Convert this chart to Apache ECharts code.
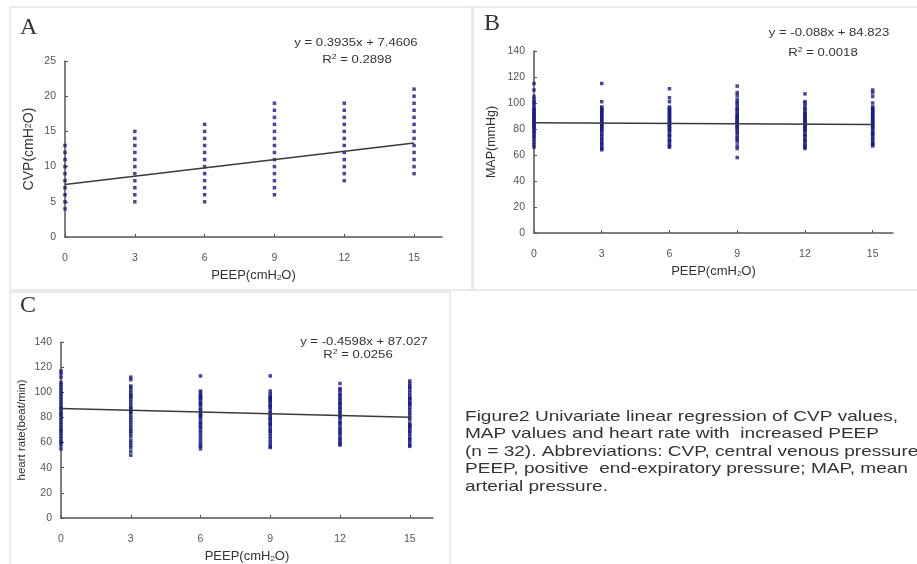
<!DOCTYPE html>
<html>
<head>
<meta charset="utf-8">
<script src="https://cdn.jsdelivr.net/npm/echarts@6/dist/echarts.min.js"></script>
<style>
  html, body { margin: 0; padding: 0; background: #fff; }
  #main { width: 917px; height: 564px; }
</style>
</head>
<body>
<div id="main"></div>
<script>
// PEEP levels (x)
const peep = [0, 3, 6, 9, 12, 15]
const xTicks = ['0', '3', '6', '9', '12', '15']

// A: CVP values at each PEEP level (many overlap)
const cvp0 = [4, 5, 6, 7, 8, 9, 10, 11, 12, 13]
const cvp3 = [5, 6, 7, 8, 9, 10, 11, 12, 13, 14, 15]
const cvp6 = [5, 6, 7, 8, 9, 10, 11, 12, 13, 14, 15, 16]
const cvp9 = [6, 7, 8, 9, 10, 11, 12, 13, 14, 15, 16, 17, 18, 19]
const cvp12 = [8, 9, 10, 11, 12, 13, 14, 15, 16, 17, 18, 19]
const cvp15 = [9, 10, 11, 12, 13, 14, 15, 16, 17, 18, 19, 20, 21]

// B: MAP values
const map0 = [66, 68, 70, 72, 74, 75, 77, 78, 80, 81, 82, 83, 84, 85, 86, 87, 88, 89, 90, 91, 92, 93, 94, 95, 96, 98, 100, 101, 103, 105, 110, 115]
const map3 = [64, 65, 66, 68, 69, 70, 72, 73, 75, 76, 78, 79, 80, 81, 82, 83, 84, 85, 86, 87, 88, 89, 90, 91, 92, 93, 94, 95, 96, 97, 101, 115]
const map6 = [66, 67, 68, 70, 71, 72, 74, 75, 76, 78, 79, 80, 81, 82, 83, 84, 85, 86, 87, 88, 89, 90, 91, 92, 93, 94, 95, 96, 97, 101, 104, 111]
const map9 = [58, 65, 67, 70, 72, 73, 75, 77, 78, 80, 81, 82, 83, 84, 85, 86, 87, 88, 89, 90, 91, 92, 94, 95, 96, 98, 100, 101, 103, 106, 108, 113]
const map12 = [65, 66, 67, 68, 70, 71, 72, 74, 75, 76, 78, 79, 80, 81, 82, 83, 84, 85, 86, 87, 88, 89, 90, 91, 92, 93, 95, 96, 98, 100, 101, 107]
const map15 = [67, 68, 69, 70, 72, 73, 75, 76, 77, 78, 80, 81, 82, 83, 84, 85, 86, 87, 88, 89, 90, 91, 92, 93, 94, 95, 96, 97, 100, 105, 108, 110]

// C: heart rate values
const hr0 = [55, 58, 60, 61, 63, 65, 67, 69, 70, 72, 74, 76, 78, 80, 82, 83, 85, 87, 88, 90, 92, 94, 96, 98, 100, 102, 104, 106, 108, 112, 115, 117]
const hr3 = [50, 53, 56, 58, 60, 62, 65, 67, 69, 70, 72, 74, 76, 78, 80, 82, 84, 85, 87, 88, 90, 92, 94, 96, 97, 98, 100, 102, 104, 105, 110, 112]
const hr6 = [55, 57, 58, 60, 62, 64, 66, 68, 70, 72, 73, 75, 76, 78, 80, 81, 82, 83, 85, 86, 88, 90, 91, 92, 94, 95, 96, 97, 98, 100, 101, 113]
const hr9 = [56, 57, 59, 61, 63, 65, 67, 69, 70, 72, 74, 75, 76, 78, 79, 80, 82, 83, 84, 86, 88, 89, 90, 92, 93, 94, 95, 96, 97, 99, 101, 113]
const hr12 = [58, 59, 60, 62, 63, 65, 67, 68, 70, 71, 73, 75, 76, 78, 80, 81, 82, 84, 85, 87, 88, 90, 91, 92, 94, 95, 97, 98, 100, 102, 103, 107]
const hr15 = [57, 58, 60, 62, 63, 65, 67, 69, 70, 72, 73, 74, 75, 78, 80, 82, 84, 86, 88, 90, 91, 92, 94, 95, 96, 98, 100, 102, 104, 105, 107, 109]

// fitted lines [slope, intercept]
const fitA = [0.3935, 7.4606]
const fitB = [-0.088, 84.823]
const fitC = [-0.4598, 87.027]

const yTicksA = ['0', '5', '10', '15', '20', '25']
const yTicksBC = ['0', '20', '40', '60', '80', '100', '120', '140']

function pts (groups) {
  let out = []
  groups.forEach((g, i) => g.forEach(v => out.push([peep[i], v])))
  return out
}
function fitLine (f) {
  return [[0, f[1]], [15, f[0] * 15 + f[1]]]
}

const font = 'Liberation Sans, Arial, sans-serif'
const axisCol = '#555'
const dotCol = '#1a1a80'

function xAxis (idx, max) {
  return {
    type: 'value', gridIndex: idx, min: 0, max: max, interval: 3,
    name: 'PEEP(cmH{s|2}O)', nameLocation: 'middle', nameGap: 31,
    nameTextStyle: {
      fontFamily: font, fontSize: 13, color: '#333',
      rich: { s: { fontSize: 8, fontFamily: font, color: '#333', padding: [6, 0, 0, 0] } }
    },
    axisLine: { lineStyle: { color: axisCol, width: 1.5 } },
    axisTick: { inside: true, length: 3, lineStyle: { color: axisCol } },
    splitLine: { show: false },
    axisLabel: {
      margin: 16, fontFamily: font, fontSize: 10.5, color: '#555', showMaxLabel: false,
      formatter: v => xTicks.indexOf(String(v)) >= 0 ? String(v) : ''
    }
  }
}
function yAxis (idx, max, interval, name, gap, size) {
  const ticks = max === 25 ? yTicksA : yTicksBC
  return {
    type: 'value', gridIndex: idx, min: 0, max: max, interval: interval,
    name: name, nameLocation: 'middle', nameGap: gap,
    nameTextStyle: {
      fontFamily: font, fontSize: size, color: '#333',
      rich: { s: { fontSize: size - 5, fontFamily: font, color: '#333' } }
    },
    axisLine: { lineStyle: { color: axisCol, width: 1.5 } },
    axisTick: { inside: true, length: 3, lineStyle: { color: axisCol } },
    splitLine: { show: false },
    axisLabel: {
      margin: 9, fontFamily: font, fontSize: 10.5, color: '#555',
      formatter: v => ticks.indexOf(String(v)) >= 0 ? String(v) : ''
    }
  }
}
function scatter (idx, data) {
  return {
    type: 'scatter', xAxisIndex: idx, yAxisIndex: idx, data: data,
    symbol: 'rect', symbolSize: 3.5, itemStyle: { color: dotCol }, silent: true
  }
}
function line (idx, f) {
  return {
    type: 'line', xAxisIndex: idx, yAxisIndex: idx, data: fitLine(f),
    symbol: 'none', lineStyle: { color: '#3a3a3a', width: 1.5 }, silent: true
  }
}
function txt (x, y, text) {
  return {
    type: 'text', x: x, y: y, scaleX: 1.25,
    style: {
      text: text, fontFamily: font, fontSize: 10.5, fill: '#333', align: 'center', verticalAlign: 'middle',
      rich: { p: { fontSize: 7, fontFamily: font, fill: '#333', padding: [0, 0, 6, 0] } }
    }
  }
}
function letter (x, y, t) {
  return { type: 'text', x: x, y: y, style: { text: t, fontFamily: 'Liberation Serif, serif', fontSize: 24, fill: '#333' } }
}
function frame (x, y, w, h) {
  return { type: 'rect', shape: { x: x, y: y, width: w, height: h }, style: { fill: 'none', stroke: '#e4e4e4', lineWidth: 1.5 } }
}

const caption = [
  'Figure2 Univariate linear regression of CVP values,',
  'MAP values and heart rate with  increased PEEP',
  '(n = 32). Abbreviations: CVP, central venous pressure;',
  'PEEP, positive  end-expiratory pressure; MAP, mean',
  'arterial pressure.'
]

let chart = echarts.init(document.getElementById('main'))
const option = {
  animation: false,
  backgroundColor: '#fff',
  grid: [
    { left: 65, top: 61, width: 377, height: 176 },
    { left: 534, top: 51, width: 359, height: 182 },
    { left: 61, top: 342, width: 372, height: 176 }
  ],
  xAxis: [xAxis(0, 16.2), xAxis(1, 15.9), xAxis(2, 16)],
  yAxis: [
    yAxis(0, 25, 5, 'CVP(cmH{s|2}O)', 29, 14),
    yAxis(1, 140, 20, 'MAP(mmHg)', 36, 12.5),
    yAxis(2, 140, 20, 'heart rate(beat/min)', 33, 11.5)
  ],
  series: [
    scatter(0, pts([cvp0, cvp3, cvp6, cvp9, cvp12, cvp15])),
    line(0, fitA),
    scatter(1, pts([map0, map3, map6, map9, map12, map15])),
    line(1, fitB),
    scatter(2, pts([hr0, hr3, hr6, hr9, hr12, hr15])),
    line(2, fitC)
  ],
  graphic: [
    frame(10, 7, 462, 283),
    frame(473, 7, 450, 283),
    frame(10, 292, 440, 280),
    letter(20, 16, 'A'),
    letter(484, 12, 'B'),
    letter(20, 294, 'C'),
    txt(356, 43, 'y = 0.3935x + 7.4606'),
    txt(357, 60, 'R{p|2} = 0.2898'),
    txt(829, 33, 'y = -0.088x + 84.823'),
    txt(823, 53, 'R{p|2} = 0.0018'),
    txt(364, 342, 'y = -0.4598x + 87.027'),
    txt(358, 355, 'R{p|2} = 0.0256'),
    {
      type: 'text', x: 465, y: 408, scaleX: 1.27,
      style: { text: caption.join('\n'), fontFamily: font, fontSize: 15, lineHeight: 17.5, fill: '#333' }
    }
  ]
}
chart.setOption(option, true)
</script>
</body>
</html>
